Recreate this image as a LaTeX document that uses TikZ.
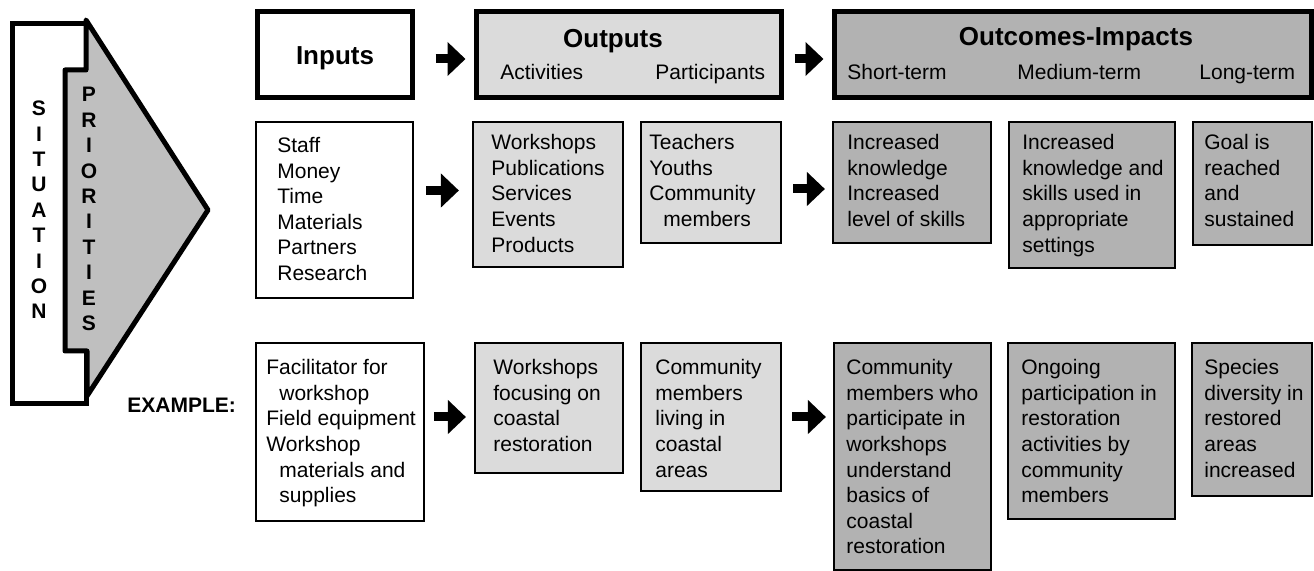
\documentclass[tikz,border=0pt]{standalone}
\usepackage{fontspec}
\setmainfont{Liberation Sans}
\usepackage{xcolor}
\usetikzlibrary{calc}
\usetikzlibrary{arrows.meta,fit,positioning}

\definecolor{outputgray}{gray}{0.86}
\definecolor{outcomegray}{gray}{0.70}
\definecolor{prioritygray}{gray}{0.75}

\begin{document}
\begin{tikzpicture}[x=0.5pt, y=-0.5pt,
font={\fontsize{10.5}{12.8}\selectfont},
headbox/.style={draw, line width=2.5pt, inner sep=0pt},
listbox/.style={draw, line width=1.1pt, inner sep=0pt},
listtext/.style={anchor=north west, align=left, inner sep=0pt},
headtext/.style={anchor=base, inner sep=0pt, font={\fontsize{13}{15}\selectfont\bfseries}},
subtext/.style={anchor=base west, inner sep=0pt},
letters/.style={align=center, inner sep=0pt, font={\fontsize{10.5}{12.7}\selectfont\bfseries}},
flow/.style={line width=4.5pt, -{Triangle[length=9pt,width=16.5pt]}}
]
\useasboundingbox (0,0) rectangle (1314,571);

% situation and priorities
\draw[line width=2.5pt, fill=white] (12,24) rectangle (86,404);
\draw[line width=2.5pt, line join=round, fill=prioritygray]
  (86,20) -- (208,210) -- (87,396) -- (87,351) -- (65,351) -- (65,70) -- (86,70) -- cycle;
\node[letters] (situation) at (39,210) {S\\I\\T\\U\\A\\T\\I\\O\\N};
\node[letters] (priorities) at (89,209) {P\\R\\I\\O\\R\\I\\T\\I\\E\\S};

% header row
\node[headbox, fit={(257,12) (412,98)}] (inhead) {};
\node[headbox, fill=outputgray, fit={(476,12) (781,98)}] (outhead) {};
\node[headbox, fill=outcomegray, fit={(834,12) (1311,98)}] (outcomehead) {};

\node[headtext] (inputs) at (335,65) {Inputs};
\node[headtext] (outputs) at (613,48) {Outputs};
\node[subtext] (activities) at (500,80) {Activities};
\node[subtext] (participants) at (655,80) {Participants};
\node[headtext] (outcomes) at (1076,46) {Outcomes-Impacts};
\node[subtext] (shortterm) at (847,80) {Short-term};
\node[subtext] (mediumterm) at (1017,80) {Medium-term};
\node[subtext] (longterm) at (1199,80) {Long-term};

\draw[flow, shorten <=10.5pt, shorten >=4pt] ([yshift=-2pt]inhead.east) -- ([yshift=-2pt]outhead.west);
\draw[flow, shorten <=5.5pt, shorten >=4pt] ([yshift=-2pt]outhead.east) -- ([yshift=-2pt]outcomehead.west);

% general row
\node[listbox, fit={(256,122) (413,298)}] (inlist) {};
\node[listbox, fill=outputgray, fit={(473,122) (623,267)}] (actlist) {};
\node[listbox, fill=outputgray, fit={(641,122) (781,243)}] (partlist) {};
\node[listbox, fill=outcomegray, fit={(833,122) (991,243)}] (shortlist) {};
\node[listbox, fill=outcomegray, fit={(1009,122) (1175,268)}] (medlist) {};
\node[listbox, fill=outcomegray, fit={(1193,122) (1312,245)}] (longlist) {};

\node[listtext] (inlist-t) at (277,137) {Staff\\Money\\Time\\Materials\\Partners\\Research};
\node[listtext] (actlist-t) at (491,134) {Workshops\\Publications\\Services\\Events\\Products};
\node[listtext] (partlist-t) at (649,134) {Teachers\\Youths\\Community\\\hspace*{7pt}members};
\node[listtext] (shortlist-t) at (847,134) {Increased\\knowledge\\Increased\\level of skills};
\node[listtext] (medlist-t) at (1022,134) {Increased\\knowledge and\\skills used in\\appropriate\\settings};
\node[listtext] (longlist-t) at (1204,134) {Goal is\\reached\\and\\sustained};

\coordinate (a2) at ([yshift=2pt]actlist.west);
\draw[flow, shorten <=6pt, shorten >=6.5pt] (inlist.east |- a2) -- (a2);
\draw[flow, shorten <=5.5pt, shorten >=3.5pt] ([yshift=-3.25pt]partlist.east) -- ([yshift=-3.25pt]shortlist.west);

% example row
\node[subtext, font={\fontsize{10.5}{12.8}\selectfont\bfseries}] (example) at (127,413) {EXAMPLE:};

\node[listbox, fit={(256,343) (424,521)}] (exin) {};
\node[listbox, fill=outputgray, fit={(475,343) (623,473)}] (exact) {};
\node[listbox, fill=outputgray, fit={(641,343) (781,491)}] (expart) {};
\node[listbox, fill=outcomegray, fit={(834,343) (991,570)}] (exshort) {};
\node[listbox, fill=outcomegray, fit={(1008,343) (1175,519)}] (exmed) {};
\node[listbox, fill=outcomegray, fit={(1192,343) (1312,496)}] (exlong) {};

\node[listtext] (exin-t) at (266,359) {Facilitator for\\\hspace*{6.5pt}workshop\\Field equipment\\Workshop\\\hspace*{6.5pt}materials and\\\hspace*{6.5pt}supplies};
\node[listtext] (exact-t) at (493,359) {Workshops\\focusing on\\coastal\\restoration};
\node[listtext] (expart-t) at (655,359) {Community\\members\\living in\\coastal\\areas};
\node[listtext] (exshort-t) at (846,359) {Community\\members who\\participate in\\workshops\\understand\\basics of\\coastal\\restoration};
\node[listtext] (exmed-t) at (1021,359) {Ongoing\\participation in\\restoration\\activities by\\community\\members};
\node[listtext] (exlong-t) at (1204,359) {Species\\diversity in\\restored\\areas\\increased};

\coordinate (a3) at ([yshift=-4.5pt]exact.west);
\draw[flow, shorten <=4.5pt, shorten >=4pt] (exin.east |- a3) -- (a3);
\draw[flow, shorten <=5pt, shorten >=3.5pt] (expart.east) -- (expart.east -| exshort.west);

\end{tikzpicture}
\end{document}
